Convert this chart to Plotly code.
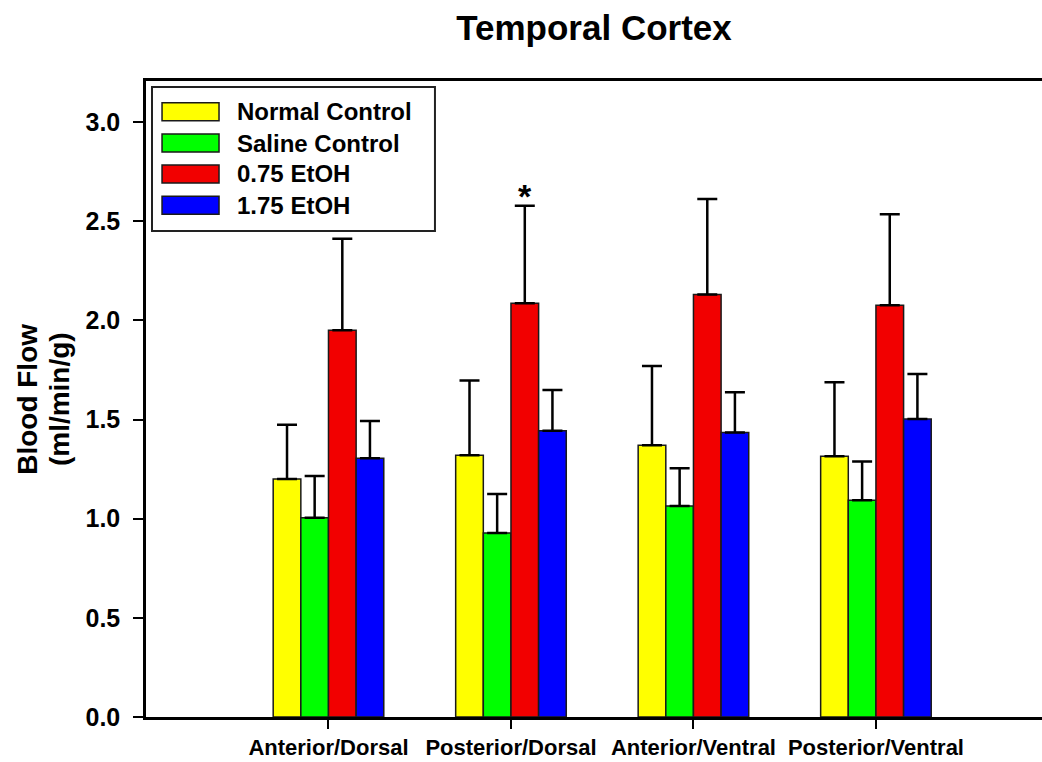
import plotly.graph_objects as go

# Regions and groups
regions = ["Anterior/Dorsal", "Posterior/Dorsal", "Anterior/Ventral", "Posterior/Ventral"]
region_pos = [1, 2, 3, 4]
groups = ["Normal Control", "Saline Control", "0.75 EtOH", "1.75 EtOH"]
colors = ["#ffff00", "#00ff00", "#f20000", "#0000ff"]

# Mean blood flow (ml/min/g) per group, one value per region
normal_mean = [1.20, 1.32, 1.37, 1.315]
saline_mean = [1.005, 0.928, 1.064, 1.093]
etoh075_mean = [1.950, 2.086, 2.131, 2.076]
etoh175_mean = [1.305, 1.444, 1.434, 1.503]

# Upper error (SD) per group
normal_err = [0.274, 0.377, 0.400, 0.373]
saline_err = [0.210, 0.197, 0.190, 0.195]
etoh075_err = [0.462, 0.492, 0.481, 0.459]
etoh175_err = [0.188, 0.205, 0.203, 0.227]

means = [normal_mean, saline_mean, etoh075_mean, etoh175_mean]
errs = [normal_err, saline_err, etoh075_err, etoh175_err]

FONT = "Liberation Sans, Arial, sans-serif"
BARGAP = 0.394

fig = go.Figure()
for name, col, m, e in zip(groups, colors, means, errs):
    fig.add_trace(go.Bar(
        x=region_pos, y=m, name=name,
        marker=dict(color=col, line=dict(color="#1a1a1a", width=1.5)),
        error_y=dict(type="data", symmetric=False, array=e,
                     arrayminus=[0] * len(e), color="black",
                     thickness=2.5, width=10),
        showlegend=False,
    ))

# Significance marker above the 0.75 EtOH bar in Posterior/Dorsal
sig_idx = 1
bar_w = (1 - BARGAP) / len(groups)
red_offset = -(1 - BARGAP) / 2 + 2.5 * bar_w
fig.add_annotation(
    x=region_pos[sig_idx] + red_offset,
    y=etoh075_mean[sig_idx] + etoh075_err[sig_idx],
    text="<b>*</b>", showarrow=False, yanchor="bottom", yshift=-11,
    font=dict(family=FONT, size=34, color="black"),
)

# Legend box drawn in paper coordinates
fig.add_shape(type="rect", xref="paper", yref="paper",
              x0=0.0067, x1=0.3225, y0=0.764, y1=0.9906,
              line=dict(color="#222222", width=2), fillcolor="white")
legend_y = [0.9517, 0.9025, 0.8538, 0.8046]
sw_h = 0.0283
for name, col, ly in zip(groups, colors, legend_y):
    fig.add_shape(type="rect", xref="paper", yref="paper",
                  x0=0.0179, x1=0.0815, y0=ly - sw_h / 2, y1=ly + sw_h / 2,
                  line=dict(color="#1a1a1a", width=1.5), fillcolor=col)
    fig.add_annotation(xref="paper", yref="paper", x=0.0993, y=ly,
                       xanchor="left", yanchor="middle", showarrow=False,
                       text="<b>%s</b>" % name,
                       font=dict(family=FONT, size=24, color="black"))

# Two-line y-axis title
fig.add_annotation(xref="paper", yref="paper", x=-0.133, y=0.5,
                   xanchor="center", yanchor="middle", textangle=-90,
                   showarrow=False, text="<b>Blood Flow</b>",
                   font=dict(family=FONT, size=28, color="black"))
fig.add_annotation(xref="paper", yref="paper", x=-0.097, y=0.5,
                   xanchor="center", yanchor="middle", textangle=-90,
                   showarrow=False, text="<b>(ml/min/g)</b>",
                   font=dict(family=FONT, size=28, color="black"))

fig.update_layout(
    width=1042, height=762,
    margin=dict(l=146, r=0, t=81, b=45, autoexpand=False),
    paper_bgcolor="white", plot_bgcolor="white",
    barmode="group", bargap=BARGAP, bargroupgap=0,
    title=dict(text="<b>Temporal Cortex</b>", x=0.5, xref="paper",
               y=1 - 28 / 762, yref="container", yanchor="middle",
               font=dict(family=FONT, size=35, color="black")),
    font=dict(family=FONT, color="black"),
)
fig.update_xaxes(
    range=[0, 4.91], tickvals=region_pos,
    ticktext=["<b>%s</b>" % r for r in regions],
    tickfont=dict(family=FONT, size=22), tickangle=0,
    ticks="outside", ticklen=9, tickwidth=2, tickcolor="black",
    showline=True, linecolor="black", linewidth=2.5, mirror=True,
    showgrid=False, zeroline=False, automargin=False,
)
fig.update_yaxes(
    range=[0, 3.207], tickvals=[0, 0.5, 1.0, 1.5, 2.0, 2.5, 3.0],
    ticktext=["<b>%.1f</b>" % v for v in [0, 0.5, 1.0, 1.5, 2.0, 2.5, 3.0]],
    tickfont=dict(family=FONT, size=25), ticklabelstandoff=8,
    ticks="outside", ticklen=10, tickwidth=2, tickcolor="black",
    showline=True, linecolor="black", linewidth=2.5,
    showgrid=False, zeroline=False, automargin=False,
)

fig.write_html("out.html")
